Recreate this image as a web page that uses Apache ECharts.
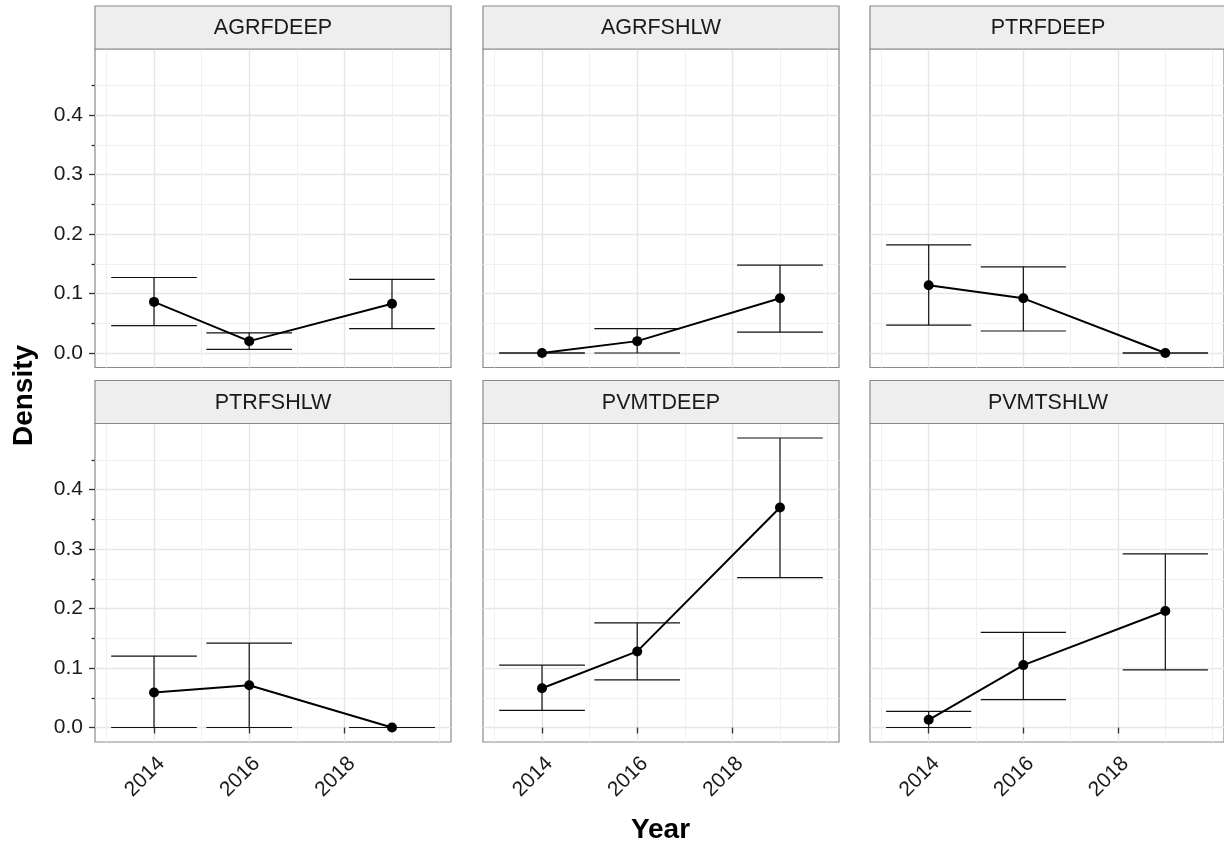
<!DOCTYPE html>
<html>
<head>
<meta charset="utf-8">
<script src="https://cdn.jsdelivr.net/npm/echarts@6/dist/echarts.min.js"></script>
<style>
html,body{margin:0;padding:0;background:#fff;}
#chart{width:1224px;height:848px;}
</style>
</head>
<body>
<div id="chart"></div>
<script>
// ---- data ----
const panelNames = ['AGRFDEEP', 'AGRFSHLW', 'PTRFDEEP', 'PTRFSHLW', 'PVMTDEEP', 'PVMTSHLW'];
const years = [2014, 2016, 2019];

const agrfdeepMean = [0.086, 0.020, 0.083];
const agrfdeepLow  = [0.046, 0.006, 0.041];
const agrfdeepHigh = [0.127, 0.034, 0.124];

const agrfshlwMean = [0.000, 0.020, 0.092];
const agrfshlwLow  = [0.000, 0.000, 0.035];
const agrfshlwHigh = [0.000, 0.041, 0.148];

const ptrfdeepMean = [0.114, 0.092, 0.000];
const ptrfdeepLow  = [0.047, 0.037, 0.000];
const ptrfdeepHigh = [0.182, 0.145, 0.000];

const ptrfshlwMean = [0.059, 0.071, 0.000];
const ptrfshlwLow  = [0.000, 0.000, 0.000];
const ptrfshlwHigh = [0.120, 0.142, 0.000];

const pvmtdeepMean = [0.066, 0.128, 0.370];
const pvmtdeepLow  = [0.029, 0.080, 0.252];
const pvmtdeepHigh = [0.105, 0.176, 0.487];

const pvmtshlwMean = [0.013, 0.105, 0.196];
const pvmtshlwLow  = [0.000, 0.047, 0.097];
const pvmtshlwHigh = [0.027, 0.160, 0.292];

const xTickLabels = [2014, 2016, 2018];
const xMinorBreaks = [2013, 2015, 2017, 2019, 2020];
const yTickLabels = [0.0, 0.1, 0.2, 0.3, 0.4];
const yMinorBreaks = [0.05, 0.15, 0.25, 0.35, 0.45];

const means = [agrfdeepMean, agrfshlwMean, ptrfdeepMean, ptrfshlwMean, pvmtdeepMean, pvmtshlwMean];
const lows  = [agrfdeepLow, agrfshlwLow, ptrfdeepLow, ptrfshlwLow, pvmtdeepLow, pvmtshlwLow];
const highs = [agrfdeepHigh, agrfshlwHigh, ptrfdeepHigh, ptrfshlwHigh, pvmtdeepHigh, pvmtshlwHigh];

// ---- layout / style ----
const CAP = 0.9; // error bar half width in years
const FONT = '"Liberation Sans", Arial, Helvetica, sans-serif';
const colLeft = [95, 483, 870];
const rowTop = [49, 423.5];
const panelW = 356, panelH = 318.5, stripH = 43;

// scale limits with 5% expansion (ggplot style)
const allHigh = [].concat(...highs), allLow = [].concat(...lows);
const yLo = Math.min(0, ...allLow), yHi = Math.max(...allHigh);
const yPad = (yHi - yLo) * 0.05;
const xLo = Math.min(...years) - CAP, xHi = Math.max(...years) + CAP;
const xPad = (xHi - xLo) * 0.05;

const chart = echarts.init(document.getElementById('chart'), null, {renderer: 'canvas'});

const grids = [], xAxes = [], yAxes = [], series = [], graphics = [];

panelNames.forEach((name, i) => {
  const col = i % 3, row = Math.floor(i / 3);
  const isLeft = col === 0, isBottom = row === 1;
  grids.push({
    left: colLeft[col], top: rowTop[row], width: panelW, height: panelH,
    show: true, borderColor: '#8a8a8a', borderWidth: 1.2, backgroundColor: '#fff',
    containLabel: false
  });
  const xCommon = {gridIndex: i, type: 'value', position: 'bottom', min: xLo - xPad, max: xHi + xPad, axisLine: {show: false}};
  xAxes.push(Object.assign({}, xCommon, {
    axisTick: {show: isBottom, customValues: xTickLabels, length: 6, lineStyle: {color: '#333', width: 1.3}},
    axisLabel: {show: isBottom, customValues: xTickLabels, rotate: 45, margin: 11,
      verticalAlign: 'top', align: 'right',
      fontSize: 21, color: '#1a1a1a', fontFamily: FONT, formatter: v => String(v)},
    splitLine: {show: true, lineStyle: {color: '#e6e6e6', width: 1.4}}
  }));
  xAxes.push(Object.assign({}, xCommon, {
    axisTick: {show: false, customValues: xMinorBreaks},
    axisLabel: {show: false, customValues: xMinorBreaks},
    splitLine: {show: true, lineStyle: {color: '#f0f0f0', width: 1}}
  }));
  const yCommon = {gridIndex: i, type: 'value', position: 'left', min: yLo - yPad, max: yHi + yPad, axisLine: {show: false}};
  yAxes.push(Object.assign({}, yCommon, {
    axisTick: {show: isLeft, customValues: yTickLabels, length: 6, lineStyle: {color: '#333', width: 1.3}},
    axisLabel: {show: isLeft, customValues: yTickLabels, margin: 12,
      fontSize: 21, color: '#1a1a1a', fontFamily: FONT, formatter: v => v.toFixed(1)},
    splitLine: {show: true, lineStyle: {color: '#e6e6e6', width: 1.4}}
  }));
  yAxes.push(Object.assign({}, yCommon, {
    axisTick: {show: isLeft, customValues: yMinorBreaks, length: 3.5, lineStyle: {color: '#333', width: 1.3}},
    axisLabel: {show: false, customValues: yMinorBreaks},
    splitLine: {show: true, lineStyle: {color: '#f0f0f0', width: 1}}
  }));

  const xi = 2 * i, yi = 2 * i;
  series.push({
    type: 'custom', name: name + ' error', xAxisIndex: xi, yAxisIndex: yi, z: 3,
    clip: false,
    data: years.map((y, k) => [y, lows[i][k], highs[i][k]]),
    encode: {x: 0, y: [1, 2]},
    renderItem: function (params, api) {
      const x = api.value(0), lo = api.value(1), hi = api.value(2);
      const pLo = api.coord([x, lo]), pHi = api.coord([x, hi]);
      const lL = api.coord([x - CAP, lo]), lR = api.coord([x + CAP, lo]);
      const hL = api.coord([x - CAP, hi]), hR = api.coord([x + CAP, hi]);
      const st = {stroke: '#111', lineWidth: 1.2};
      return {type: 'group', children: [
        {type: 'line', shape: {x1: pLo[0], y1: pLo[1], x2: pHi[0], y2: pHi[1]}, style: st},
        {type: 'line', shape: {x1: lL[0], y1: lL[1], x2: lR[0], y2: lR[1]}, style: st},
        {type: 'line', shape: {x1: hL[0], y1: hL[1], x2: hR[0], y2: hR[1]}, style: st}
      ]};
    }
  });
  series.push({
    type: 'line', name: name, xAxisIndex: xi, yAxisIndex: yi, z: 4,
    data: years.map((y, k) => [y, means[i][k]]),
    symbol: 'circle', symbolSize: 10, showSymbol: true,
    itemStyle: {color: '#000'}, lineStyle: {color: '#000', width: 2},
    animation: false
  });

  // facet strip
  graphics.push({
    type: 'rect', z: 10,
    shape: {x: colLeft[col], y: rowTop[row] - stripH, width: panelW, height: stripH},
    style: {fill: '#eeeeee', stroke: '#8a8a8a', lineWidth: 1.2}
  });
  graphics.push({
    type: 'text', z: 11,
    x: colLeft[col] + panelW / 2, y: rowTop[row] - stripH / 2 + 1,
    style: {text: name, font: '21.5px ' + FONT, fill: '#1a1a1a', textAlign: 'center', textVerticalAlign: 'middle'}
  });
});

graphics.push({
  type: 'text', z: 11, x: 24, y: (rowTop[0] + rowTop[1] + panelH) / 2, rotation: Math.PI / 2,
  style: {text: 'Density', font: 'bold 28px ' + FONT, fill: '#000', textAlign: 'center', textVerticalAlign: 'middle'}
});
graphics.push({
  type: 'text', z: 11, x: (colLeft[0] + colLeft[2] + panelW) / 2, y: 830,
  style: {text: 'Year', font: 'bold 28px ' + FONT, fill: '#000', textAlign: 'center', textVerticalAlign: 'middle'}
});

chart.setOption({
  animation: false,
  backgroundColor: '#fff',
  grid: grids,
  xAxis: xAxes,
  yAxis: yAxes,
  series: series,
  graphic: graphics
});
</script>
</body>
</html>
